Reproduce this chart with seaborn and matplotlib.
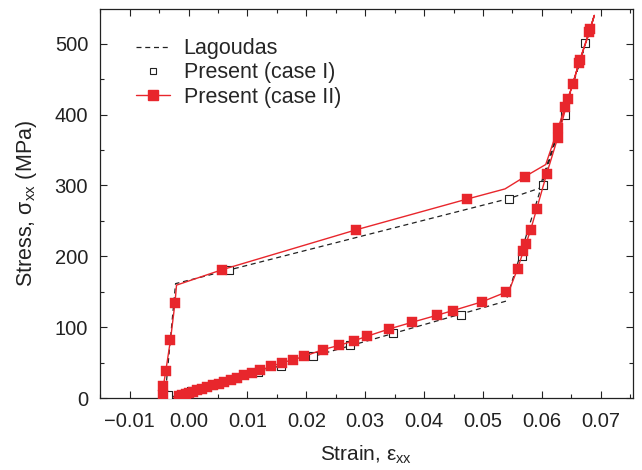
import matplotlib
matplotlib.use("Agg")
import matplotlib.pyplot as plt
from matplotlib.lines import Line2D
from matplotlib.ticker import MultipleLocator, FixedLocator
import seaborn as sns
import pandas as pd

# ---------------- data ----------------
# Lagoudas (dashed black loop)
lag_strain = [-0.0040, -0.0022, 0.0545, 0.0596, 0.0689, 0.0539, -0.0035]
lag_stress = [0.0, 161.4, 281.7, 296.1, 539.7, 136.7, 0.0]

# Present (case I) - open squares
c1_strain = [-0.0034, 0.0005, 0.0040, 0.0080, 0.0118, 0.0157, 0.0212, 0.0275,
             0.0348, 0.0462, 0.0566, 0.0068, 0.0545, 0.0602, 0.0639, 0.0673]
c1_stress = [4.1, 9.3, 18.5, 27.8, 36.0, 45.6, 59.7, 74.3,
             91.8, 116.7, 200.0, 181.3, 281.2, 300.2, 400.0, 501.3]

# Present (case II) - red line path (loading then unloading)
c2_line_strain = [-0.00475, -0.00438, -0.00428, -0.00387, -0.00306, -0.00229, -0.00204,
                  0.00564, 0.02852, 0.04723, 0.05374, 0.05713, 0.06065, 0.06278,
                  0.06392, 0.06523, 0.06630, 0.06817, 0.06890,
                  0.06808, 0.06647, 0.06448, 0.06268, 0.06081, 0.05912, 0.05810,
                  0.05730, 0.05684, 0.05586, 0.05467, 0.05385, 0.04978, 0.04486,
                  0.04214, 0.03790, 0.03409, 0.03025, 0.02815, 0.02555, 0.02278,
                  0.01961, 0.01779, 0.01593, 0.01401, 0.01214, -0.0026]
c2_line_stress = [0.0, 4.6, 16.3, 37.5, 82.2, 134.7, 159.3,
                  180.9, 237.5, 280.6, 295.1, 312.5, 329.5, 381.3,
                  410.9, 442.5, 473.1, 521.1, 540.1,
                  515.9, 477.7, 422.2, 367.1, 316.3, 266.9, 237.7,
                  217.4, 207.0, 182.2, 156.5, 149.2, 135.6, 123.3,
                  116.7, 106.7, 97.5, 87.0, 80.9, 74.3, 68.2,
                  58.7, 54.1, 49.9, 44.6, 39.0, 0.0]

# Present (case II) - red square markers
c2_mark_strain = [-0.00438, -0.00428, -0.00387, -0.00306, -0.00229,
                  0.00564, 0.02852, 0.04723, 0.05713,
                  0.06278, 0.06392, 0.06523, 0.06630, 0.06817,
                  0.06808, 0.06647, 0.06448, 0.06268, 0.06081, 0.05912, 0.05810,
                  0.05730, 0.05684, 0.05586, 0.05385, 0.04978, 0.04486, 0.04214,
                  0.03790, 0.03409, 0.03025, 0.02815, 0.02555, 0.02278, 0.01961,
                  0.01779, 0.01593, 0.01401, 0.01214, 0.0108, 0.0095, 0.0083,
                  0.0072, 0.0061, 0.0051, 0.0041, 0.0032, 0.0023, 0.0015, 0.0008,
                  0.0001, -0.0005, -0.0011, -0.0016]
c2_mark_stress = [4.6, 16.3, 37.5, 82.2, 134.7,
                  180.9, 237.5, 280.6, 312.5,
                  381.3, 410.9, 442.5, 473.1, 521.1,
                  515.9, 477.7, 422.2, 367.1, 316.3, 266.9, 237.7,
                  217.4, 207.0, 182.2, 149.2, 135.6, 123.3, 116.7,
                  106.7, 97.5, 87.0, 80.9, 74.3, 68.2, 58.7,
                  54.1, 49.9, 44.6, 39.0, 35.4, 32.0, 28.8,
                  25.9, 23.0, 20.4, 17.7, 15.3, 13.0, 10.8, 8.9,
                  7.1, 5.6, 4.0, 2.7]

legend_labels = ["Lagoudas", "Present (case I)", "Present (case II)"]
x_ticks = [-0.01, 0.00, 0.01, 0.02, 0.03, 0.04, 0.05, 0.06, 0.07]
x_ticklabels = ["\u22120.01", "0.00", "0.01", "0.02", "0.03", "0.04", "0.05", "0.06", "0.07"]
y_ticks = [0, 100, 200, 300, 400, 500]

# ---------------- style ----------------
sns.set_style("ticks")
plt.rcParams["font.family"] = ["Liberation Sans", "DejaVu Sans"]
plt.rcParams["mathtext.default"] = "regular"

RED = "#E8262C"
INK = "#222222"

fig = plt.figure(figsize=(6.42, 4.70), dpi=100)
ax = fig.add_axes([100 / 642, 1 - 398 / 470, 533 / 642, 389 / 470])

lag_df = pd.DataFrame({"strain": lag_strain, "stress": lag_stress})
c1_df = pd.DataFrame({"strain": c1_strain, "stress": c1_stress})
c2l_df = pd.DataFrame({"strain": c2_line_strain, "stress": c2_line_stress})
c2m_df = pd.DataFrame({"strain": c2_mark_strain, "stress": c2_mark_stress})

sns.lineplot(data=lag_df, x="strain", y="stress", sort=False, estimator=None,
             color=INK, lw=0.9, ax=ax, zorder=2)
ax.lines[-1].set_dashes([4, 3])
sns.scatterplot(data=c1_df, x="strain", y="stress", marker="s", s=30,
                facecolor="white", edgecolor=INK, linewidth=0.8, ax=ax, zorder=3)
sns.lineplot(data=c2l_df, x="strain", y="stress", sort=False, estimator=None,
             color=RED, lw=1.0, ax=ax, zorder=4)
sns.scatterplot(data=c2m_df, x="strain", y="stress", marker="s", s=55,
                color=RED, edgecolor=RED, linewidth=0.3, ax=ax, zorder=5)

# ---------------- axes ----------------
ax.set_xlim(-0.01503, 0.07547)
ax.set_ylim(0, 549)
ax.xaxis.set_major_locator(FixedLocator(x_ticks))
ax.set_xticklabels(x_ticklabels)
ax.xaxis.set_minor_locator(MultipleLocator(0.005))
ax.set_yticks(y_ticks)
ax.yaxis.set_minor_locator(MultipleLocator(50))
ax.tick_params(which="both", direction="in", top=True, right=True,
               width=0.8, colors=INK, labelcolor=INK)
ax.tick_params(which="major", length=5, labelsize=14.5)
ax.tick_params(which="minor", length=3)
ax.tick_params(axis="x", which="major", pad=10)
ax.tick_params(axis="y", which="major", pad=8.5)
for sp in ax.spines.values():
    sp.set_linewidth(0.9)
    sp.set_color(INK)

ax.set_xlabel("Strain, \u03b5$_{xx}$", fontsize=15, color=INK, labelpad=9)
ax.set_ylabel("Stress, \u03c3$_{xx}$ (MPa)", fontsize=15.5, color=INK, labelpad=11)

handles = [
    Line2D([], [], color=INK, lw=0.9, dashes=[4, 3]),
    Line2D([], [], color=INK, lw=0, marker="s", markersize=5,
           markerfacecolor="white", markeredgewidth=0.8),
    Line2D([], [], color=RED, lw=1.0, marker="s", markersize=7.8,
           markerfacecolor=RED, markeredgecolor=RED),
]
ax.legend(handles, legend_labels, loc="upper left", bbox_to_anchor=(0.068, 0.925),
          frameon=False, fontsize=15.5, handlelength=1.58, handletextpad=0.62,
          labelspacing=0.15, borderpad=0, borderaxespad=0)

fig.savefig("out.png", dpi=100)
